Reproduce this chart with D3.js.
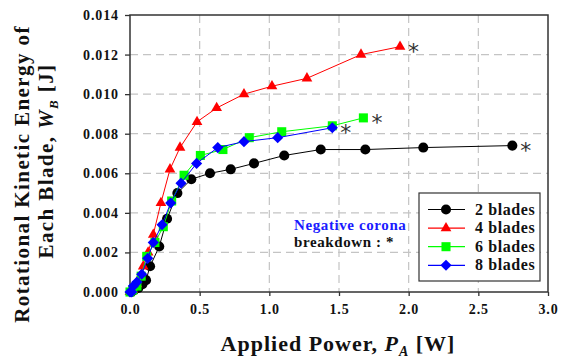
<!DOCTYPE html>
<html>
<head>
<meta charset="utf-8">
<script src="https://cdn.jsdelivr.net/npm/d3@7"></script>
<style>
  body { margin: 0; background: #fff; }
  svg text { font-family: "Liberation Serif", "Times New Roman", Times, "DejaVu Serif", serif; font-weight: bold; }
</style>
</head>
<body>
<div id="chart"></div>
<script>
// data: [power W, energy J]
var blades2 = [[0.01,0],[0.03,0.0001],[0.06,0.0002],[0.09,0.0004],[0.115,0.0006],[0.144,0.0013],[0.21,0.0023],[0.266,0.0037],[0.34,0.005],[0.44,0.0057],[0.574,0.006],[0.723,0.0062],[0.89,0.0065],[1.107,0.0069],[1.369,0.0072],[1.689,0.0072],[2.105,0.0073],[2.744,0.0074]];
var blades4 = [[0,0],[0.02,0.0001],[0.05,0.0004],[0.075,0.0008],[0.095,0.0013],[0.13,0.002],[0.167,0.0029],[0.222,0.0045],[0.287,0.0062],[0.359,0.0073],[0.481,0.0086],[0.622,0.0093],[0.818,0.0100],[1.019,0.0104],[1.27,0.0108],[1.658,0.0120],[1.938,0.0124]];
var blades6 = [[0,0],[0.02,0.0001],[0.05,0.0003],[0.08,0.0008],[0.12,0.0018],[0.179,0.0025],[0.239,0.0033],[0.299,0.0046],[0.388,0.0059],[0.505,0.0069],[0.667,0.0072],[0.856,0.0078],[1.089,0.0081],[1.452,0.0084],[1.675,0.0088]];
var blades8 = [[0,0],[0.012,0],[0.024,0.0003],[0.05,0.0005],[0.084,0.0009],[0.127,0.0017],[0.167,0.0025],[0.23,0.0034],[0.292,0.0045],[0.366,0.0055],[0.478,0.0065],[0.63,0.0073],[0.818,0.0076],[1.06,0.0078],[1.452,0.0083]];

var seriesNames = ["2 blades", "4 blades", "6 blades", "8 blades"];
var seriesColors = ["#000000", "#ff0000", "#00ff00", "#0000ff"];
var seriesShapes = ["circle", "triangle", "square", "diamond"];
var xTicks = [0, 0.5, 1.0, 1.5, 2.0, 2.5, 3.0];
var yTicks = [0, 0.002, 0.004, 0.006, 0.008, 0.010, 0.012, 0.014];

var svg = d3.select("#chart").append("svg")
    .attr("width", 566)
    .attr("height", 358);

var margin = {top: 15, right: 18, bottom: 66, left: 130},
    width = 566 - margin.left - margin.right,
    height = 358 - margin.top - margin.bottom,
    g = svg.append("g").attr("transform", "translate(" + margin.left + "," + margin.top + ")");

var x = d3.scaleLinear().domain([0, 3]).range([0, width]),
    y = d3.scaleLinear().domain([0, 0.014]).range([height, 0]);

var serif = "'Liberation Serif', 'Times New Roman', Times, 'DejaVu Serif', serif";

// grid
g.selectAll(".vgrid").data(xTicks.slice(1, -1)).enter().append("line")
    .attr("x1", function(d) { return x(d); }).attr("x2", function(d) { return x(d); })
    .attr("y1", 0).attr("y2", height)
    .style("stroke", "#c4c4c4").style("stroke-width", 1.2).style("stroke-dasharray", "8,5");
g.selectAll(".hgrid").data(yTicks.slice(1, -1)).enter().append("line")
    .attr("y1", function(d) { return y(d); }).attr("y2", function(d) { return y(d); })
    .attr("x1", 0).attr("x2", width)
    .style("stroke", "#c4c4c4").style("stroke-width", 1.2).style("stroke-dasharray", "8,5");

// frame
g.append("rect").attr("width", width).attr("height", height)
    .style("fill", "none").style("stroke", "#333").style("stroke-width", 1.5);

var xAxis = g.append("g")
    .attr("transform", "translate(0," + height + ")")
    .call(d3.axisBottom(x).tickValues(xTicks).tickFormat(d3.format(".1f")).tickSize(4).tickPadding(8));
var yAxis = g.append("g")
    .call(d3.axisLeft(y).tickValues(yTicks).tickFormat(d3.format(".3f")).tickSize(5).tickPadding(6));
[xAxis, yAxis].forEach(function(a) {
  a.attr("font-family", null).attr("font-size", null);
  a.select(".domain").remove();
  a.selectAll("line").style("stroke", "#333").style("stroke-width", 1.3);
  a.selectAll("text").style("font-family", serif).style("font-weight", "bold")
    .style("font-size", "14px").style("letter-spacing", "0.9px").style("fill", "#111");
});

var line = d3.line()
    .x(function(d) { return x(d[0]); })
    .y(function(d) { return y(d[1]); });

var symbols = {
  circle: d3.symbol().type(d3.symbolCircle).size(80),
  triangle: d3.symbol().type(d3.symbolTriangle).size(50),
  square: d3.symbol().type(d3.symbolSquare).size(82),
  diamond: d3.symbol().type(d3.symbolSquare).size(62)
};
var rot = { circle: 0, triangle: 0, square: 0, diamond: 45 };

var allSeries = [blades2, blades4, blades6, blades8];

allSeries.forEach(function(data, i) {
  g.append("path")
    .attr("d", line(data))
    .style("fill", "none")
    .style("stroke", seriesColors[i])
    .style("stroke-width", 1);
  g.selectAll(".pt" + i).data(data).enter().append("path")
    .attr("transform", function(d) {
      return "translate(" + x(d[0]) + "," + y(d[1]) + ") rotate(" + rot[seriesShapes[i]] + ")";
    })
    .attr("d", symbols[seriesShapes[i]])
    .style("fill", seriesColors[i]);
  var last = data[data.length - 1];
  g.append("text")
    .attr("x", x(last[0]) + 8)
    .attr("y", y(last[1]) + 12)
    .style("font-size", "22px")
    .style("font-weight", "normal")
    .style("font-family", "'DejaVu Sans'")
    .style("fill", "#333")
    .text("*");
});

// annotation
g.append("text").attr("x", 294 - margin.left).attr("y", 230 - margin.top)
  .style("font-size", "15px").style("letter-spacing", "0.6px").style("fill", "#1a1aff").text("Negative corona");
g.append("text").attr("x", 294 - margin.left).attr("y", 247 - margin.top)
  .style("font-size", "15px").style("letter-spacing", "0.6px").style("fill", "#111").text("breakdown : *");

// legend
var leg = g.append("g").attr("transform", "translate(" + (419 - margin.left) + "," + (193 - margin.top) + ")");
leg.append("rect").attr("width", 121).attr("height", 88)
  .style("fill", "#fff").style("stroke", "#333").style("stroke-width", 1.2);
seriesNames.forEach(function(name, i) {
  var ly = 16.5 + i * 18.6;
  leg.append("line").attr("x1", 9).attr("x2", 46).attr("y1", ly).attr("y2", ly)
    .style("stroke", seriesColors[i]).style("stroke-width", 1.2);
  leg.append("path").attr("transform", "translate(27," + ly + ") rotate(" + rot[seriesShapes[i]] + ")")
    .attr("d", symbols[seriesShapes[i]]).style("fill", seriesColors[i]);
  leg.append("text").attr("x", 56).attr("y", ly + 5)
    .style("font-size", "16px").style("letter-spacing", "0.6px").style("fill", "#111").text(name);
});

// axis titles
var xt = svg.append("text").attr("x", 338).attr("y", 351)
  .attr("text-anchor", "middle").style("font-size", "22px").style("letter-spacing", "1px").style("fill", "#111");
xt.append("tspan").text("Applied Power, ");
xt.append("tspan").style("font-style", "italic").text("P");
xt.append("tspan").attr("dy", 5).style("font-size", "14px").style("font-style", "italic").text("A");
xt.append("tspan").attr("dy", -5).text(" [W]");

var yt = svg.append("text").attr("transform", "translate(29,174) rotate(-90)")
  .attr("text-anchor", "middle").style("font-size", "21px").style("letter-spacing", "1.4px").style("fill", "#111");
yt.append("tspan").attr("x", 0).attr("y", 0).text("Rotational Kinetic Energy of");
var yt2 = svg.append("text").attr("transform", "translate(53,161) rotate(-90)")
  .attr("text-anchor", "middle").style("font-size", "21px").style("letter-spacing", "1.4px").style("fill", "#111");
yt2.append("tspan").text("Each Blade, ");
yt2.append("tspan").style("font-style", "italic").text("W");
yt2.append("tspan").attr("dy", 5).style("font-size", "13px").style("font-style", "italic").text("B");
yt2.append("tspan").attr("dy", -5).text(" [J]");
</script>
</body>
</html>
